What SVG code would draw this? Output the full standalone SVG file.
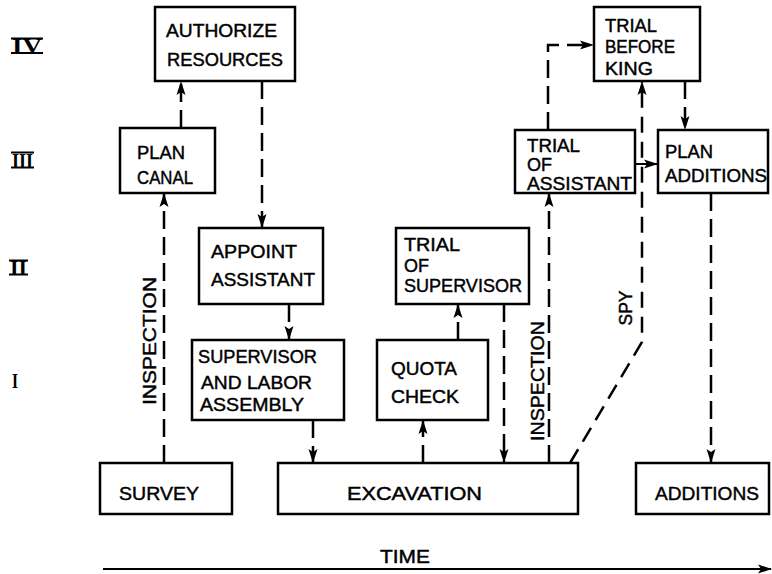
<svg xmlns="http://www.w3.org/2000/svg" width="772" height="574" viewBox="0 0 772 574">
<style>
.box{fill:#fff;stroke:#000;stroke-width:2.5}
.t{font-family:"Liberation Sans",Arial,sans-serif;font-size:19px;fill:#000;stroke:#000;stroke-width:0.45}
.r{font-family:"Liberation Serif","Times New Roman",serif;font-size:22px;font-weight:bold;fill:#000}
.c{fill:none;stroke:#000;stroke-width:2.5;stroke-dasharray:18 8}
.s{fill:none;stroke:#000;stroke-width:2}
.bar{stroke:#000;stroke-width:2}
</style>
<defs>
<marker id="ah" markerUnits="userSpaceOnUse" markerWidth="14" markerHeight="10" refX="13" refY="5" orient="auto">
<path d="M0,0.5 L14,5 L0,9.5 L3,5 Z" fill="#000"/>
</marker>
</defs>
<rect width="772" height="574" fill="#fff"/>

<g id="levels">
<text class="r" x="12" y="53" textLength="30" lengthAdjust="spacingAndGlyphs">IV</text>
<line class="bar" x1="11" y1="38.5" x2="43" y2="38.5"/><line class="bar" x1="11" y1="53" x2="43" y2="53"/>
<text class="r" x="12" y="168" textLength="21" lengthAdjust="spacingAndGlyphs">III</text>
<line class="bar" x1="11" y1="152.5" x2="34" y2="152.5"/><line class="bar" x1="11" y1="167.5" x2="34" y2="167.5"/>
<text class="r" x="10" y="275" textLength="17" lengthAdjust="spacingAndGlyphs">II</text>
<line class="bar" x1="9" y1="260.5" x2="28" y2="260.5"/><line class="bar" x1="9" y1="274.5" x2="28" y2="274.5"/>
<text class="r" x="12" y="388" textLength="6" lengthAdjust="spacingAndGlyphs">I</text>
</g>

<g id="connectors">
<path class="c" d="M164,463 V194" marker-end="url(#ah)"/>
<path class="c" d="M181,128 V82" marker-end="url(#ah)"/>
<path class="c" d="M262,81 V227" marker-end="url(#ah)"/>
<path class="c" d="M289,304 V339" marker-end="url(#ah)"/>
<path class="c" d="M313,420 V462" marker-end="url(#ah)"/>
<path class="c" d="M423,463 V421" marker-end="url(#ah)"/>
<path class="c" d="M458,340 V305" marker-end="url(#ah)"/>
<path class="c" d="M504,304 V462" marker-end="url(#ah)"/>
<path class="c" d="M549,463 V194" marker-end="url(#ah)"/>
<path class="c" d="M548,130 V45 H593" marker-end="url(#ah)"/>
<path class="c" style="stroke-dasharray:16 9" d="M570,463 L642,342 V82" marker-end="url(#ah)"/>
<path class="c" d="M685,81 V129" marker-end="url(#ah)"/>
<path class="s" d="M635,164 H657" marker-end="url(#ah)"/>
<path class="c" d="M711,193 V462" marker-end="url(#ah)"/>
<path class="s" d="M103,569 H771" marker-end="url(#ah)"/>
<text class="t" transform="translate(156,341) rotate(-90)" text-anchor="middle" textLength="128" lengthAdjust="spacingAndGlyphs">INSPECTION</text>
<text class="t" transform="translate(544,381) rotate(-90)" text-anchor="middle" textLength="120" lengthAdjust="spacingAndGlyphs">INSPECTION</text>
<text class="t" transform="translate(632,308) rotate(-90)" text-anchor="middle" textLength="35" lengthAdjust="spacingAndGlyphs">SPY</text>
<text class="t" x="380" y="563" textLength="50" lengthAdjust="spacingAndGlyphs">TIME</text>
</g>

<g id="authorize">
<rect class="box" x="155" y="7" width="140" height="74"/>
<text class="t" x="166" y="37" textLength="111" lengthAdjust="spacingAndGlyphs">AUTHORIZE</text>
<text class="t" x="167" y="66" textLength="116" lengthAdjust="spacingAndGlyphs">RESOURCES</text>
</g>
<g id="plan-canal">
<rect class="box" x="120" y="128" width="95" height="65"/>
<text class="t" x="137" y="159" textLength="48" lengthAdjust="spacingAndGlyphs">PLAN</text>
<text class="t" x="137" y="184" textLength="56" lengthAdjust="spacingAndGlyphs">CANAL</text>
</g>
<g id="appoint">
<rect class="box" x="199" y="228" width="124" height="76"/>
<text class="t" x="211" y="258" textLength="86" lengthAdjust="spacingAndGlyphs">APPOINT</text>
<text class="t" x="211" y="286" textLength="104" lengthAdjust="spacingAndGlyphs">ASSISTANT</text>
</g>
<g id="supervisor-assembly">
<rect class="box" x="192" y="340" width="152" height="80"/>
<text class="t" x="198" y="363" textLength="119" lengthAdjust="spacingAndGlyphs">SUPERVISOR</text>
<text class="t" x="201" y="389" textLength="111" lengthAdjust="spacingAndGlyphs">AND LABOR</text>
<text class="t" x="200" y="411" textLength="104" lengthAdjust="spacingAndGlyphs">ASSEMBLY</text>
</g>
<g id="quota-check">
<rect class="box" x="377" y="340" width="111" height="80"/>
<text class="t" x="391" y="375" textLength="66" lengthAdjust="spacingAndGlyphs">QUOTA</text>
<text class="t" x="391" y="403" textLength="68" lengthAdjust="spacingAndGlyphs">CHECK</text>
</g>
<g id="trial-supervisor">
<rect class="box" x="396" y="228" width="133" height="76"/>
<text class="t" x="404" y="251" textLength="56" lengthAdjust="spacingAndGlyphs">TRIAL</text>
<text class="t" x="404" y="272" textLength="25" lengthAdjust="spacingAndGlyphs">OF</text>
<text class="t" x="404" y="292" textLength="118" lengthAdjust="spacingAndGlyphs">SUPERVISOR</text>
</g>
<g id="trial-assistant">
<rect class="box" x="515" y="130" width="120" height="63"/>
<text class="t" x="527" y="152" textLength="53" lengthAdjust="spacingAndGlyphs">TRIAL</text>
<text class="t" x="527" y="171" textLength="25" lengthAdjust="spacingAndGlyphs">OF</text>
<text class="t" x="527" y="190" textLength="105" lengthAdjust="spacingAndGlyphs">ASSISTANT</text>
</g>
<g id="trial-king">
<rect class="box" x="594" y="7" width="106" height="74"/>
<text class="t" x="605" y="32" textLength="52" lengthAdjust="spacingAndGlyphs">TRIAL</text>
<text class="t" x="605" y="53" textLength="70" lengthAdjust="spacingAndGlyphs">BEFORE</text>
<text class="t" x="605" y="75" textLength="48" lengthAdjust="spacingAndGlyphs">KING</text>
</g>
<g id="plan-additions">
<rect class="box" x="658" y="130" width="110" height="63"/>
<text class="t" x="665" y="158" textLength="48" lengthAdjust="spacingAndGlyphs">PLAN</text>
<text class="t" x="665" y="182" textLength="102" lengthAdjust="spacingAndGlyphs">ADDITIONS</text>
</g>
<g id="survey">
<rect class="box" x="100" y="463" width="132" height="51"/>
<text class="t" x="119" y="500" textLength="80" lengthAdjust="spacingAndGlyphs">SURVEY</text>
</g>
<g id="excavation">
<rect class="box" x="278" y="463" width="300" height="51"/>
<text class="t" x="347" y="500" textLength="135" lengthAdjust="spacingAndGlyphs">EXCAVATION</text>
</g>
<g id="additions">
<rect class="box" x="636" y="463" width="133" height="51"/>
<text class="t" x="655" y="500" textLength="104" lengthAdjust="spacingAndGlyphs">ADDITIONS</text>
</g>
</svg>
